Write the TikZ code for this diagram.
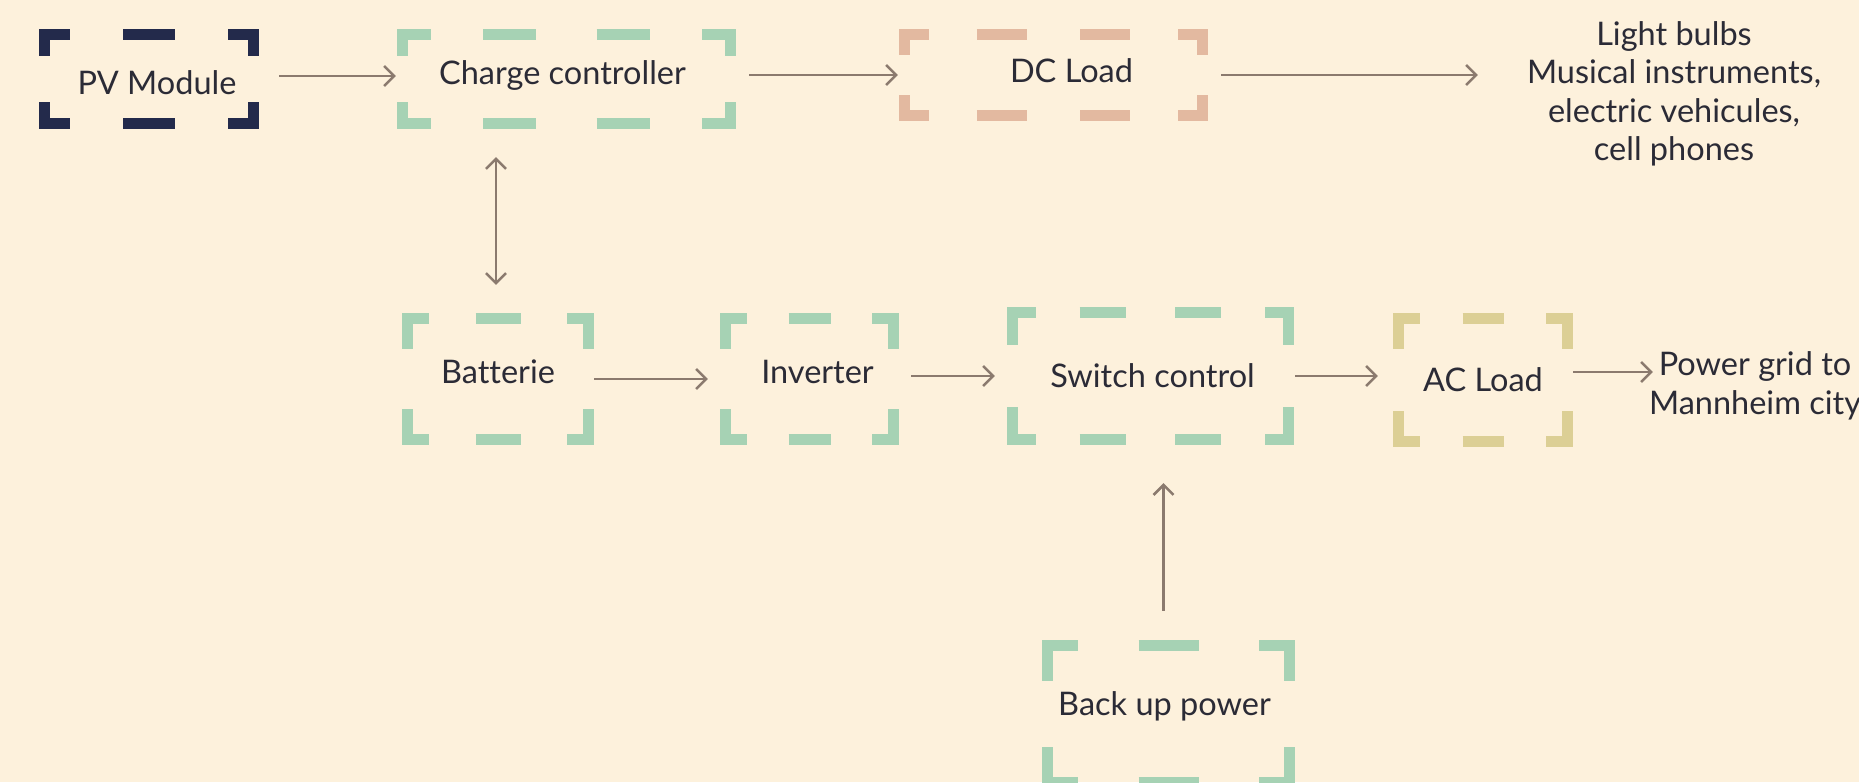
\documentclass[tikz,border=0pt]{standalone}
\usepackage{fontspec}
\setmainfont{Lato}[Ligatures=NoCommon]
\usetikzlibrary{arrows.meta,calc}

\definecolor{cream}{HTML}{FDF1DC}
\definecolor{navy}{HTML}{232A4B}
\definecolor{mint}{HTML}{A6D2B4}
\definecolor{salmon}{HTML}{E3B9A0}
\definecolor{khaki}{HTML}{DCCF95}
\definecolor{wirecol}{HTML}{8B7A6E}
\definecolor{ink}{HTML}{2B2B36}

% bracket frame round a node: node, colour, arm x, arm y, dash length, dashes per side
\newcommand{\bracketframe}[6]{%
  \foreach \cn/\sx/\sy in {north west/1/-1, north east/-1/-1, south west/1/1, south east/-1/1}
    \draw[bracket, #2] ([shift={(\sx*5.5pt,\sy*#4)}]#1.\cn) |- ([shift={(\sx*#3,\sy*5.5pt)}]#1.\cn);
  \foreach \k in {1,...,#6}{
    \pgfmathsetmacro\f{\k/(#6+1)}
    \draw[bracket, #2] ($(#1.north west)!\f!(#1.north east)$) ++(-#5/2,-5.5pt) -- ++(#5,0);
    \draw[bracket, #2] ($(#1.south west)!\f!(#1.south east)$) ++(-#5/2,5.5pt) -- ++(#5,0);
  }
}

\begin{document}
\begin{tikzpicture}[x=1pt, y=1pt, font=\fontsize{32.5}{38.5}\selectfont, text=ink,
    >={Straight Barb[length=10pt,width=20pt]}]
    \tikzstyle{bracket}=[line width=11pt, line cap=butt, line join=miter]
    \tikzstyle{box}=[rectangle, inner sep=0pt]
    \tikzstyle{note}=[inner sep=0pt, align=center]
    \tikzstyle{wire}=[->, line width=2.5pt, draw=wirecol]
    % background, fixes the page size
    \fill[cream] (0,0) rectangle (1859,-782);
    \useasboundingbox (0,0) rectangle (1859,-782);
    % top row
    \node[box, minimum width=220pt, minimum height=100pt,
          label={[shift={(8pt,-4pt)}]center:PV Module}] (pv) at (149,-79) {};
    \node[box, minimum width=339pt, minimum height=100pt,
          label={[shift={(-4pt,4pt)}]center:Charge controller}] (cc) at (566.5,-79) {};
    \node[box, minimum width=309pt, minimum height=92pt,
          label={[shift={(18pt,4pt)}]center:DC Load}] (dc) at (1053.5,-75) {};
    \node[note] (uses) at (1674,-94) {Light bulbs\\Musical instruments,\\electric vehicules,\\cell phones};
    % middle row
    \node[box, minimum width=192pt, minimum height=132pt,
          label={[shift={(0pt,7pt)}]center:Batterie}] (bat) at (498,-379) {};
    \node[box, minimum width=179pt, minimum height=132pt,
          label={[shift={(8pt,7pt)}]center:Inverter}] (inv) at (809.5,-379) {};
    \node[box, minimum width=287pt, minimum height=138pt,
          label={[shift={(2pt,0pt)}]center:Switch control}] (sw) at (1150.5,-376) {};
    \node[box, minimum width=180pt, minimum height=134pt,
          label={center:AC Load}] (ac) at (1483,-380) {};
    \node[note] (grid) at (1755,-386) {Power grid to\\Mannheim city};
    % bottom
    \node[box, minimum width=253pt, minimum height=148pt,
          label={[shift={(-4pt,8pt)}]center:Back up power}] (backup) at (1168.5,-714) {};
    % frames
    \bracketframe{pv}{navy}{31pt}{27pt}{52pt}{1}
    \bracketframe{cc}{mint}{34pt}{27pt}{53pt}{2}
    \bracketframe{dc}{salmon}{30pt}{26pt}{50pt}{2}
    \bracketframe{bat}{mint}{27pt}{36pt}{45pt}{1}
    \bracketframe{inv}{mint}{27pt}{36pt}{42pt}{1}
    \bracketframe{sw}{mint}{29pt}{38pt}{46pt}{2}
    \bracketframe{ac}{khaki}{27pt}{36pt}{41pt}{1}
    \bracketframe{backup}{mint}{36pt}{41pt}{60pt}{1}
    % connections
    \draw[wire, shorten <=20pt, shorten >=1pt] ([yshift=3pt]pv.east) -- ([yshift=3pt]cc.west);
    \draw[wire, shorten <=13pt, shorten >=1pt] (cc.east |- dc.west) -- (dc.west);
    \draw[wire, shorten <=13pt, shorten >=49pt] (dc.east) -- (dc.east -| uses.west);
    \draw[wire, <->, shorten <=28pt, shorten >=28pt] ([xshift=-2pt]bat.north |- cc.south) -- ([xshift=-2pt]bat.north);
    \draw[wire, shorten >=12pt] (bat.east) -- (inv.west);
    \draw[wire, shorten <=12pt, shorten >=12pt] (sw.west -| inv.east) -- (sw.west);
    \draw[wire, shorten <=1pt, shorten >=15pt] (sw.east) -- (sw.east -| ac.west);
    \draw[wire, shorten >=-4pt] ([yshift=8pt]ac.east) -- ([yshift=8pt]ac.east -| grid.west);
    \draw[wire, shorten <=29pt, shorten >=38pt] ([xshift=-5pt]backup.north) -- ([xshift=-5pt]backup.north |- sw.south);
\end{tikzpicture}
\end{document}
